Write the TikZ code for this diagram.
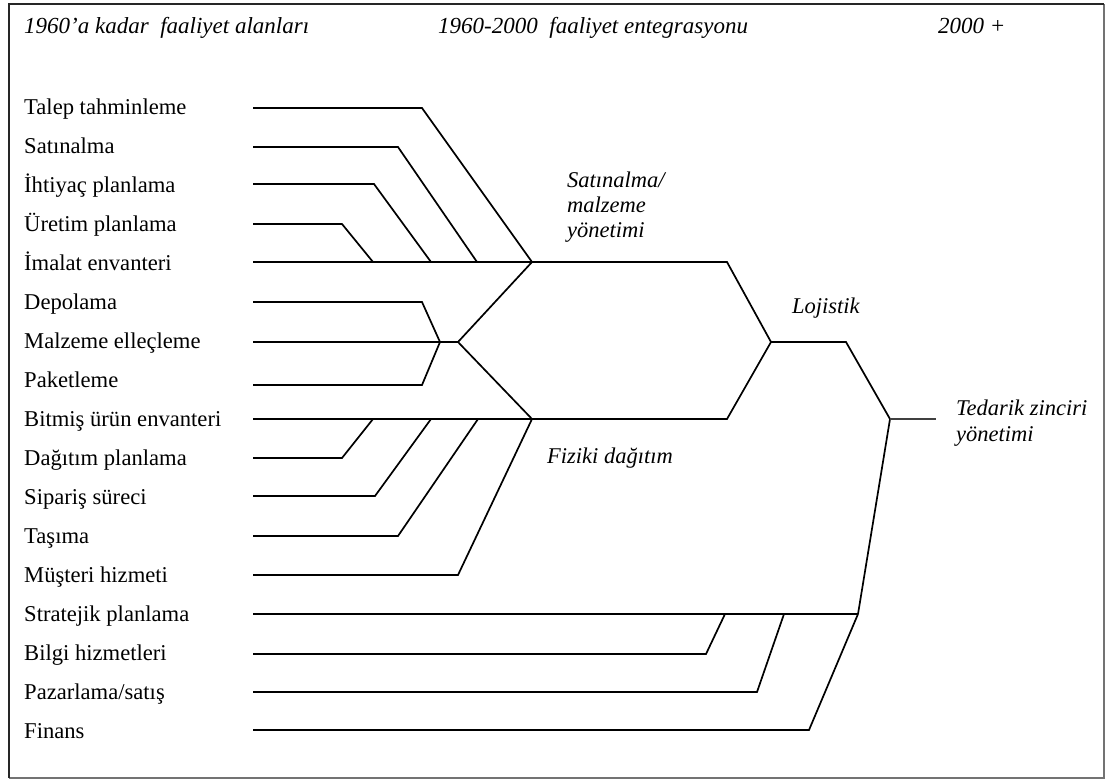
\documentclass[tikz,border=0pt]{standalone}
\usepackage{fontspec}
\setmainfont{Liberation Serif}
\begin{document}
\begin{tikzpicture}[x=1pt,y=-1pt,
  ln/.style={line width=1.7pt, line join=miter},
  thinln/.style={line width=1.1pt, draw=black!75},
  lab/.style={anchor=base west, inner sep=0pt, font=\fontsize{22.6}{26}\selectfont},
  hd/.style={anchor=base west, inner sep=0pt, font=\fontsize{23}{26}\selectfont\itshape},
  ital/.style={anchor=base west, inner sep=0pt, font=\fontsize{22.5}{26}\selectfont\itshape, align=left}]
\useasboundingbox (0,0) rectangle (1107,780);
% frame
\draw[line width=1.5pt, black!55] (1104,4) -- (1104,778) -- (9,778);
\draw[line width=2pt, black!85] (9,778) -- (9,4) -- (1104,4);
% headers
\node[hd] (h1) at (24,33) {1960’a kadar\ \ faaliyet alanları};
\node[hd] (h2) at (438,33) {1960-2000\ \ faaliyet entegrasyonu};
\node[hd] (h3) at (938,33) {2000 +};
% left labels
\node[lab] (t1)  at (24,114) {Talep tahminleme};
\node[lab] (t2)  at (24,153) {Satınalma};
\node[lab] (t3)  at (24,192) {İhtiyaç planlama};
\node[lab] (t4)  at (24,231) {Üretim planlama};
\node[lab] (t5)  at (24,270) {İmalat envanteri};
\node[lab] (t6)  at (24,309) {Depolama};
\node[lab] (t7)  at (24,348) {Malzeme elleçleme};
\node[lab] (t8)  at (24,387) {Paketleme};
\node[lab] (t9)  at (24,426) {Bitmiş ürün envanteri};
\node[lab] (t10) at (24,465) {Dağıtım planlama};
\node[lab] (t11) at (24,504) {Sipariş süreci};
\node[lab] (t12) at (24,543) {Taşıma};
\node[lab] (t13) at (24,582) {Müşteri hizmeti};
\node[lab] (t14) at (24,621) {Stratejik planlama};
\node[lab] (t15) at (24,660) {Bilgi hizmetleri};
\node[lab] (t16) at (24,699) {Pazarlama/satış};
\node[lab] (t17) at (24,738) {Finans};
% group labels
\node[ital] (gSM) at (567,187) {Satınalma/};
\node[ital] (gSM2) at (567,212) {malzeme};
\node[ital] (gSM3) at (567,237) {yönetimi};
\node[ital] (gFD) at (547,463) {Fiziki dağıtım};
\node[ital] (gL)  at (792,313) {Lojistik};
\node[ital] (gT)  at (956,415) {Tedarik zinciri};
\node[ital] (gT2) at (956,441) {yönetimi};
% junction coordinates
\coordinate (SM) at (532,262);
\coordinate (FD) at (532,419);
\coordinate (MD) at (458,342);
\coordinate (MDi) at (440,342);
\coordinate (SMe) at (727,262);
\coordinate (FDe) at (727,419);
\coordinate (LJ) at (771,342);
\coordinate (LJe) at (846,342);
\coordinate (TZ) at (890,419);
\coordinate (TZe) at (936,419);
\coordinate (ST) at (858,614);
% line starts
\foreach \i/\y in {1/108,2/147,3/184,4/224,5/262,6/302,7/342,8/385,9/419,10/458,11/496,12/536,13/575,14/614,15/654,16/692,17/730}
  {\coordinate (s\i) at (253,\y);}
% upper group
\draw[ln] (s1) -- (422,108) -- (SM);
\draw[ln] (s2) -- (398,147) -- (477,262);
\draw[ln] (s3) -- (374,184) -- (431,262);
\draw[ln] (s4) -- (342,224) -- (373,262);
\draw[ln] (s5) -- (SM) -- (SMe) -- (LJ);
% middle group
\draw[ln] (s6) -- (422,302) -- (MDi);
\draw[ln] (s8) -- (422,385) -- (MDi);
\draw[ln] (s7) -- (MD);
\draw[ln] (SM) -- (MD) -- (FD);
% lower group
\draw[ln] (s9) -- (FD) -- (FDe) -- (LJ);
\draw[ln] (s10) -- (342,458) -- (373,419);
\draw[ln] (s11) -- (375,496) -- (431,419);
\draw[ln] (s12) -- (398,536) -- (478,419);
\draw[ln] (s13) -- (458,575) -- (FD);
% logistics to SCM
\draw[ln] (LJ) -- (LJe) -- (TZ) -- (ST);
\draw[thinln] (TZ) -- (TZe);
% bottom group
\draw[ln] (s14) -- (ST);
\draw[ln] (s15) -- (706,654) -- (725,614);
\draw[ln] (s16) -- (757,692) -- (784,614);
\draw[ln] (s17) -- (809,730) -- (ST);
\end{tikzpicture}
\end{document}
